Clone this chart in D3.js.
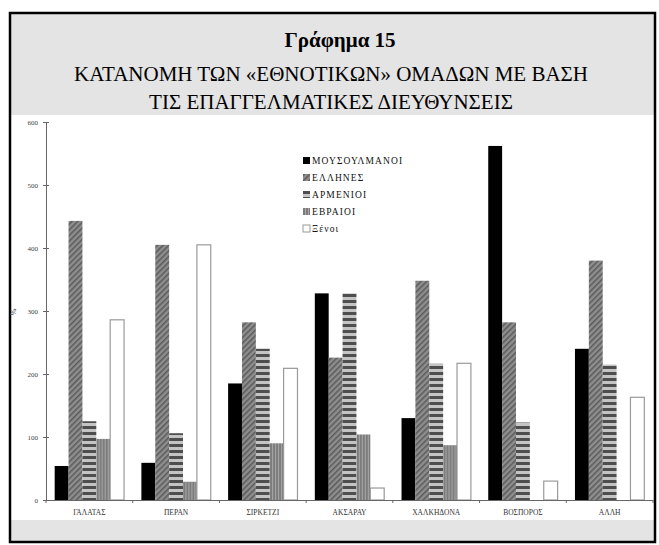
<!DOCTYPE html>
<html>
<head>
    <meta charset="utf-8" />
    <script src="https://d3js.org/d3.v7.min.js"></script>
    <style>
        body { margin: 0; background: #fff; }
        text { font-family: "Liberation Serif", serif; }
    </style>
</head>
<body>
<script type="text/javascript">
    var w = 659,
        h = 545;

    // data
    var categories = ["ΓΑΛΑΤΑΣ", "ΠΕΡΑΝ", "ΣΙΡΚΕΤΖΙ", "ΑΚΣΑΡΑΥ", "ΧΑΛΚΗΔΟΝΑ", "ΒΟΣΠΟΡΟΣ", "ΑΛΛΗ"];
    var seriesNames = ["ΜΟΥΣΟΥΛΜΑΝΟΙ", "ΕΛΛΗΝΕΣ", "ΑΡΜΕΝΙΟΙ", "ΕΒΡΑΙΟΙ", "Ξένοι"];
    var mousoulmanoi = [54, 59, 185, 328, 130, 562, 240];
    var ellines      = [443, 405, 282, 226, 348, 282, 380];
    var armenioi     = [125, 106, 240, 328, 217, 123, 215];
    var evraioi      = [97, 29, 90, 104, 87, 0, 0];
    var xenoi        = [286, 405, 209, 19, 217, 30, 163];
    var yTicks = [0, 100, 200, 300, 400, 500, 600];
    var yTickLabels = ["0", "100", "200", "300", "400", "500", "600"];

    var allSeries = [mousoulmanoi, ellines, armenioi, evraioi, xenoi];
    var fills = ["#000", "url(#hatch)", "url(#hstripe)", "url(#vstripe)", "#fff"];

    var svg = d3.select("body")
                .append("svg")
                .attr("width", w)
                .attr("height", h);

    var defs = svg.append("defs");

    var p1 = defs.append("pattern").attr("id", "hatch")
        .attr("patternUnits", "userSpaceOnUse").attr("width", 4).attr("height", 4)
        .attr("patternTransform", "rotate(45)");
    p1.append("rect").attr("width", 4).attr("height", 4).attr("fill", "#8e8e8e");
    p1.append("rect").attr("width", 1.5).attr("height", 4).attr("fill", "#5a5a5a");

    var p2 = defs.append("pattern").attr("id", "hstripe")
        .attr("patternUnits", "userSpaceOnUse").attr("width", 6).attr("height", 6);
    p2.append("rect").attr("width", 6).attr("height", 6).attr("fill", "#c4c4c4");
    p2.append("rect").attr("width", 6).attr("height", 3).attr("fill", "#4e4e4e");

    var p3 = defs.append("pattern").attr("id", "vstripe")
        .attr("patternUnits", "userSpaceOnUse").attr("width", 3).attr("height", 3);
    p3.append("rect").attr("width", 3).attr("height", 3).attr("fill", "#7c7c7c");
    p3.append("rect").attr("x", 2).attr("width", 1).attr("height", 3).attr("fill", "#a8a8a8");

    // frame and grey bands
    svg.append("rect").attr("x", 10).attr("y", 13).attr("width", 645).attr("height", 102).attr("fill", "#e4e4e4");
    svg.append("rect").attr("x", 10).attr("y", 520).attr("width", 645).attr("height", 22).attr("fill", "#e4e4e4");
    svg.append("rect").attr("x", 10).attr("y", 13).attr("width", 645).attr("height", 529)
       .attr("fill", "none").attr("stroke", "#000").attr("stroke-width", 2.5);

    // title
    svg.append("text").attr("x", 340).attr("y", 47).attr("text-anchor", "middle")
       .attr("font-size", 21).attr("font-weight", "bold").text("Γράφημα 15");
    svg.append("text").attr("x", 331).attr("y", 81).attr("text-anchor", "middle")
       .attr("font-size", 21).text("ΚΑΤΑΝΟΜΗ ΤΩΝ «ΕΘΝΟΤΙΚΩΝ» ΟΜΑΔΩΝ ΜΕ ΒΑΣΗ");
    svg.append("text").attr("x", 331).attr("y", 109).attr("text-anchor", "middle")
       .attr("font-size", 21).text("ΤΙΣ ΕΠΑΓΓΕΛΜΑΤΙΚΕΣ ΔΙΕΥΘΥΝΣΕΙΣ");

    // scales
    var x0 = d3.scaleBand().domain(categories).range([46, 653])
               .paddingInner(0.2).paddingOuter(0.1);
    var x1 = d3.scaleBand().domain(d3.range(seriesNames.length)).range([0, x0.bandwidth()]);
    var y = d3.scaleLinear().domain([0, 600]).range([500, 122]);

    // bars
    var groups = svg.selectAll("g.cat")
        .data(categories)
        .enter()
        .append("g")
        .attr("class", "cat")
        .attr("transform", function(d){ return "translate(" + x0(d) + ",0)"; });

    groups.selectAll("rect")
        .data(function(d, i){ return allSeries.map(function(s, k){ return {k: k, v: s[i]}; }); })
        .enter()
        .append("rect")
        .filter(function(d){ return d.v > 0; })
        .attr("x", function(d){ return x1(d.k); })
        .attr("y", function(d){ return y(d.v); })
        .attr("width", x1.bandwidth())
        .attr("height", function(d){ return y(0) - y(d.v); })
        .attr("fill", function(d){ return fills[d.k]; })
        .attr("stroke", function(d){ return d.k == 4 ? "#9a9a9a" : "none"; })
        .attr("stroke-width", 1.2);

    // y axis
    var yAxis = d3.axisLeft(y).tickValues(yTicks)
        .tickFormat(function(d, i){ return yTickLabels[i]; })
        .tickSizeInner(3).tickSizeOuter(0).tickPadding(5);
    var ya = svg.append("g").attr("transform", "translate(46,0)").call(yAxis);
    ya.select(".domain").attr("stroke", "#666");
    ya.selectAll(".tick line").attr("stroke", "#666").attr("x1", 3);
    ya.selectAll(".tick text").attr("font-size", 7).attr("fill", "#444")
      .attr("font-family", "DejaVu Sans, sans-serif");

    svg.append("text").attr("transform", "translate(16,312) rotate(-90)")
       .attr("text-anchor", "middle").attr("font-size", 8).attr("fill", "#444").text("%");

    // x axis
    var xAxis = d3.axisBottom(x0).tickSize(0).tickPadding(10);
    var xa = svg.append("g").attr("transform", "translate(0,500)").call(xAxis);
    xa.select(".domain").attr("stroke", "#666");
    xa.selectAll(".tick text").attr("font-size", 7.5).attr("fill", "#333")
      .attr("font-family", "DejaVu Sans, sans-serif");
    xa.selectAll("line.sep")
      .data(d3.range(categories.length + 1))
      .enter()
      .append("line")
      .attr("class", "sep")
      .attr("x1", function(i){ return 46 + i * x0.step(); })
      .attr("x2", function(i){ return 46 + i * x0.step(); })
      .attr("y1", 0).attr("y2", 3)
      .attr("stroke", "#666");

    // legend
    var legend = svg.append("g").attr("transform", "translate(303,163)");
    var rows = legend.selectAll("g")
        .data(seriesNames)
        .enter()
        .append("g")
        .attr("transform", function(d, i){ return "translate(0," + i * 17 + ")"; });
    rows.append("rect").attr("x", 0).attr("y", -6).attr("width", 7).attr("height", 7)
        .attr("fill", function(d, i){ return fills[i]; })
        .attr("stroke", function(d, i){ return i == 4 ? "#9a9a9a" : "none"; });
    rows.append("text").attr("x", 9).attr("y", 1).attr("font-size", 9.5)
        .attr("letter-spacing", 1.1).attr("fill", "#111")
        .text(function(d){ return d; });
</script>
</body>
</html>
